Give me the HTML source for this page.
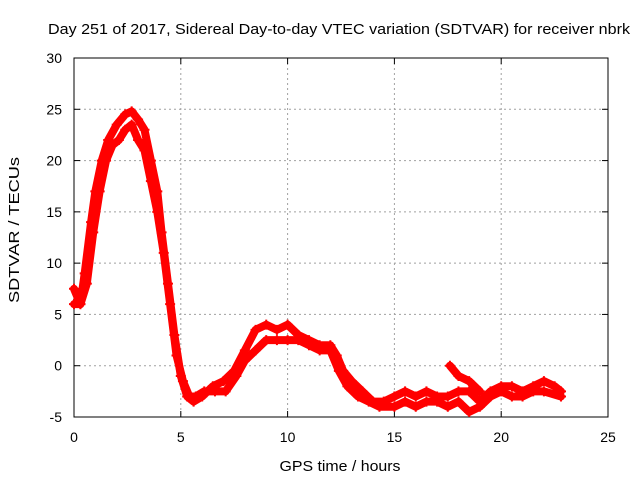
<!DOCTYPE html>
<html><head><meta charset="utf-8"><style>
body{margin:0;background:#fff}
svg text{font-family:"Liberation Sans",sans-serif;font-size:14px;fill:#000}
</style></head><body>
<svg id="chart" width="640" height="480">
<text x="339" y="34" text-anchor="middle" textLength="582" lengthAdjust="spacingAndGlyphs" style="font-size:15px">Day 251 of 2017, Sidereal Day-to-day VTEC variation (SDTVAR) for receiver nbrk</text>
<g id="grid"></g><g id="axes"></g><g id="marks"></g>
<text x="340" y="471" text-anchor="middle" textLength="121" lengthAdjust="spacingAndGlyphs" style="font-size:15px">GPS time / hours</text>
<text transform="translate(19,230) rotate(-90)" text-anchor="middle" textLength="146" lengthAdjust="spacingAndGlyphs" style="font-size:15px">SDTVAR / TECUs</text>
</svg>
<script>
const xTicks=[0,5,10,15,20,25];
const yTicks=[-5,0,5,10,15,20,25,30];
const track1Hours=[0,0.3,0.5,0.8,1.0,1.3,1.6,2.0,2.4,2.7,3.0,3.3,3.6,3.9,4.1,4.4,4.7,5.0,5.3,5.6,6.0,6.5,7.0,7.5,8.0,8.5,9.0,9.5,10.0,10.5,11,11.5,12,12.3,12.6,13,13.5,14,14.5,15,15.5,16,16.5,17,17.5,18,18.5,19,19.5,20,20.5,21,21.5,22,22.5,22.8];
const track1Values=[6,6,9,14,17,20,22,23.5,24.5,24.8,24,23,20,17,13,8,3,-1,-3,-3.5,-3,-2,-1.5,-0.5,1.5,3.5,4,3.5,4,3,2.5,2,2,1,-0.5,-1.5,-2.5,-3.5,-3.5,-3,-2.5,-3,-2.5,-3,-3,-2.5,-2.5,-3.5,-2.5,-2,-2,-2.5,-2,-1.5,-2,-2.5];
const track2Hours=[0,0.3,0.6,0.9,1.2,1.5,1.8,2.1,2.4,2.7,3.0,3.3,3.6,3.9,4.2,4.5,4.8,5.1,5.4,5.7,6.1,6.6,7.1,7.6,8.0,8.5,9.0,9.5,10,10.5,11,11.5,12,12.4,12.8,13.3,13.8,14.3,15,15.5,16,16.5,17,17.5,18,18.5,19,19.5,20,20.5,21,21.5,22,22.8];
const track2Values=[7.5,6,8,13,17,20,21.5,22,23,23.5,22,21,18,15,11,6,1,-1.5,-3,-3,-2.5,-2.5,-2.5,-1,0.5,1.5,2.5,2.5,2.5,2.5,2,1.5,1.5,-0.5,-2,-3,-3.5,-4,-4,-3.5,-4,-3.5,-3.5,-4,-3.5,-4.5,-4,-3,-2.5,-3,-3,-2.5,-2.5,-3];
const track3Hours=[17.6,18,18.5,19];
const track3Values=[0,-1,-1.5,-2.5];
const X0=74,X1=608,Y0=417,Y1=58;
const xs=v=>X0+(v-0)/(25-0)*(X1-X0);
const ys=v=>Y0-(v+5)/(35)*(Y0-Y1);
const NS="http://www.w3.org/2000/svg";
function mk(t,a,p){const e=document.createElementNS(NS,t);for(const k in a)e.setAttribute(k,a[k]);p.appendChild(e);return e;}
const grid=document.getElementById('grid'),axes=document.getElementById('axes'),marks=document.getElementById('marks');
xTicks.forEach(t=>{const x=xs(t);
 if(t>0&&t<25){const l=mk('line',{x1:x,x2:x,y1:Y1,y2:Y0,stroke:'#a0a0a0','stroke-dasharray':'2,3'},grid);
 
 }
 mk('line',{x1:x,x2:x,y1:Y0,y2:Y0-6,stroke:'#000'},axes);mk('line',{x1:x,x2:x,y1:Y1,y2:Y1+6,stroke:'#000'},axes);
 const tx=mk('text',{x:x,y:Y0+25,'text-anchor':'middle'},axes);tx.textContent=t;
 
 });
yTicks.forEach(t=>{const y=ys(t);
 if(t>-5&&t<30){const l=mk('line',{x1:X0,x2:X1,y1:y,y2:y,stroke:'#a0a0a0','stroke-dasharray':'2,3'},grid);
 
 }
 mk('line',{x1:X0,x2:X0+6,y1:y,y2:y,stroke:'#000'},axes);mk('line',{x1:X1,x2:X1-6,y1:y,y2:y,stroke:'#000'},axes);
 const tx=mk('text',{x:X0-12,y:y+5,'text-anchor':'end'},axes);tx.textContent=t;
 
 });
const fr=mk('rect',{x:X0,y:Y1,width:X1-X0,height:Y0-Y1,fill:'none',stroke:'#000'},axes);


[[track1Hours,track1Values],[track2Hours,track2Values],[track3Hours,track3Values]].forEach(([h,v],i)=>{
 const pts=h.map((t,j)=>xs(t)+','+ys(v[j])).join(' ');
 const pl=mk('polyline',{points:pts,fill:'none',stroke:'#f00','stroke-width':8,'stroke-linejoin':'round','stroke-linecap':'round'},marks);
 
 
 h.forEach((t,j)=>{const x=xs(t),y=ys(v[j]);
  const p=mk('path',{d:`M${x-5},${y}h10M${x},${y-5}v10`,stroke:'#f00','stroke-width':2},marks);
  
  });
});
</script>
</body></html>
